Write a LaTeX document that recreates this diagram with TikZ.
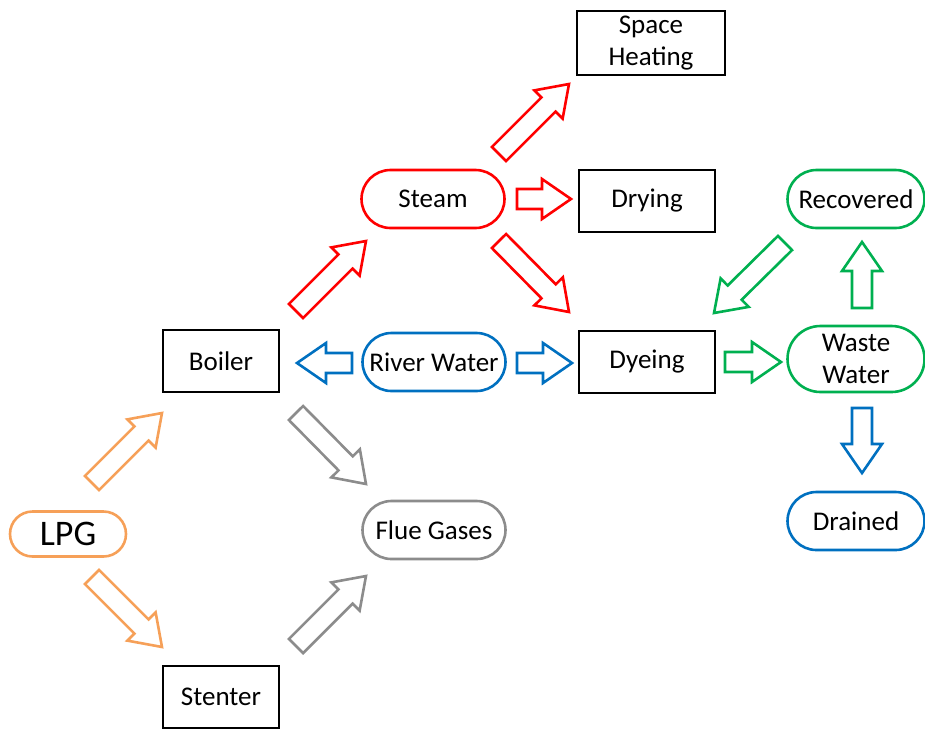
\documentclass[tikz,border=0pt]{standalone}
\usepackage{fontspec}
\setmainfont{Carlito}
\usetikzlibrary{calc}

\definecolor{lpgorange}{RGB}{246,160,88}
\definecolor{steamred}{RGB}{255,0,0}
\definecolor{waterblue}{RGB}{0,112,192}
\definecolor{wastegreen}{RGB}{0,176,80}
\definecolor{fluegrey}{RGB}{140,140,140}

% hollow block arrow from a tail coordinate to a tip coordinate
\newcommand{\shw}{10}   % half shaft width
\newcommand{\hdw}{20}   % half head width
\newcommand{\hdl}{29}   % head length
\newcommand{\blockarrow}[3]{%
  \draw[flowarrow,#1] let \p1=($(#3)-(#2)$), \n1={atan2(\y1,\x1)}, \n2={veclen(\x1,\y1)} in
    [shift={(#2)}, rotate=\n1]
    (0,-\shw) -- (\n2-\hdl,-\shw) -- (\n2-\hdl,-\hdw) -- (\n2,0)
    -- (\n2-\hdl,\hdw) -- (\n2-\hdl,\shw) -- (0,\shw) -- cycle;}

\tikzset{
  unit/.style={draw=black, line width=2.8pt, minimum width=#1, minimum height=62pt,
    inner sep=0pt, align=center, font=\fontsize{27}{32}\selectfont},
  unit/.default=136pt,
  stream/.style={draw=#1, line width=2.6pt, minimum width=143pt, minimum height=58pt,
    rounded corners=29pt, inner sep=0pt, align=center, font=\fontsize{27}{32}\selectfont},
  flowarrow/.style={line width=2.6pt, line join=miter, fill=white}
}

\begin{document}
\begin{tikzpicture}[x=1pt, y=-1pt]
\useasboundingbox (0,0) rectangle (925,729);

% process units
\node[unit=148pt, minimum height=64pt] (space) at (651,43) {Space\\Heating};
\node[unit] (drying) at (647,201) {Drying};
\node[unit] (dyeing) at (647,362) {Dyeing};
\node[unit=116pt] (boiler) at (221,361) {Boiler};
\node[unit=116pt] (stenter) at (221,697) {Stenter};

% streams
\node[stream=steamred] (steam) at (433,199) {Steam};
\node[stream=waterblue] (river) at (434,362) {River Water};
\node[stream=fluegrey] (flue) at (434,530) {Flue Gases};
\node[stream=lpgorange, minimum width=116pt, minimum height=45pt, rounded corners=22.5pt,
  font=\fontsize{36}{40}\selectfont] (lpg) at (68,534) {LPG};
\node[stream=wastegreen, minimum width=137pt] (recovered) at (856,199) {Recovered};
\node[stream=wastegreen, minimum width=137pt, minimum height=66pt, rounded corners=33pt]
  (waste) at (856,359) {Waste\\Water};
\node[stream=waterblue, minimum width=137pt] (drained) at (856,521) {Drained};

% arrow end points
\coordinate (lb-t) at (92,483);   \coordinate (lb-h) at (162,413);
\coordinate (ls-t) at (92,577);   \coordinate (ls-h) at (162,647);
\coordinate (bs-t) at (296,311);  \coordinate (bs-h) at (366,241);
\coordinate (sh-t) at (499,154);  \coordinate (sh-h) at (569,84);
\coordinate (sd-t) at (517,199);  \coordinate (sd-h) at (571,199);
\coordinate (sy-t) at (499,241);  \coordinate (sy-h) at (569,312);
\coordinate (rb-t) at (352,363);  \coordinate (rb-h) at (297,363);
\coordinate (ry-t) at (517,363);  \coordinate (ry-h) at (572,363);
\coordinate (bf-t) at (296,413);  \coordinate (bf-h) at (366,484);
\coordinate (sf-t) at (296,646);  \coordinate (sf-h) at (366,576);
\coordinate (yw-t) at (725,362);  \coordinate (yw-h) at (781,362);
\coordinate (wr-t) at (862,308);  \coordinate (wr-h) at (862,242);
\coordinate (wd-t) at (862,408);  \coordinate (wd-h) at (862,473);
\coordinate (ry2-t) at (785,243); \coordinate (ry2-h) at (714,313);

% fuel
\blockarrow{draw=lpgorange}{lb-t}{lb-h}
\blockarrow{draw=lpgorange}{ls-t}{ls-h}
% steam
\blockarrow{draw=steamred}{bs-t}{bs-h}
\blockarrow{draw=steamred}{sh-t}{sh-h}
\blockarrow{draw=steamred}{sd-t}{sd-h}
\blockarrow{draw=steamred}{sy-t}{sy-h}
% water
\blockarrow{draw=waterblue}{rb-t}{rb-h}
\blockarrow{draw=waterblue}{ry-t}{ry-h}
\blockarrow{draw=waterblue}{wd-t}{wd-h}
% flue gases
\blockarrow{draw=fluegrey}{bf-t}{bf-h}
\blockarrow{draw=fluegrey}{sf-t}{sf-h}
% waste water
\blockarrow{draw=wastegreen}{yw-t}{yw-h}
\blockarrow{draw=wastegreen}{wr-t}{wr-h}
\blockarrow{draw=wastegreen}{ry2-t}{ry2-h}
\end{tikzpicture}
\end{document}
